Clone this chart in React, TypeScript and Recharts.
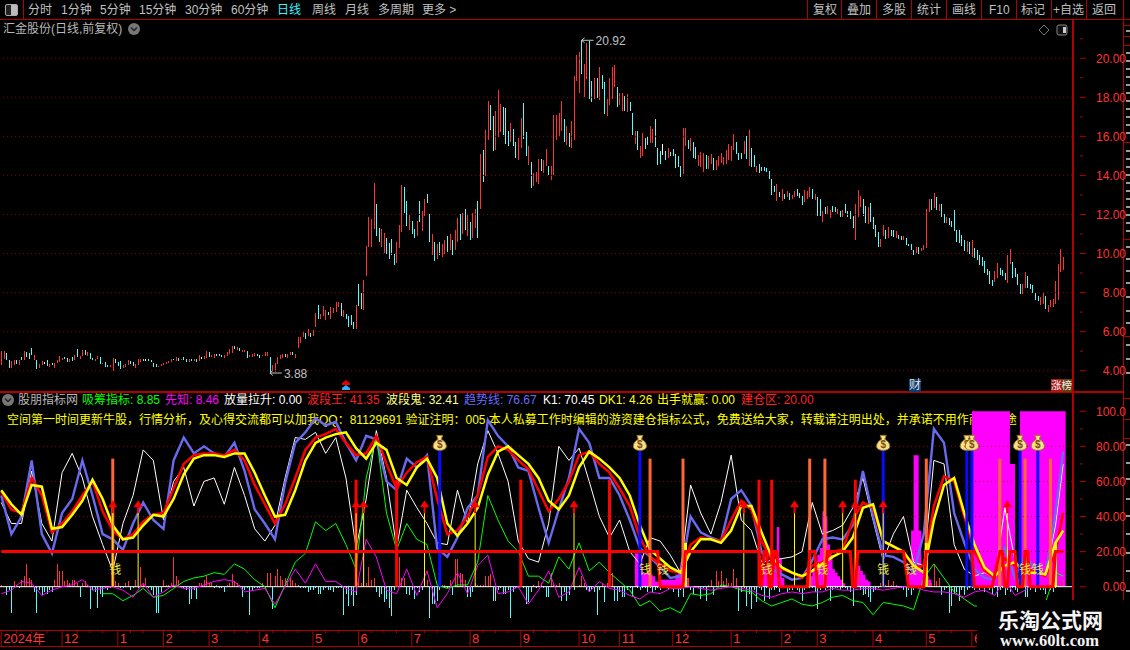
import { Area, Bar, ComposedChart, Line, ReferenceDot, ReferenceLine, XAxis, YAxis } from 'recharts'

// daily candles
const candleHigh = [
  4.99,4.99,4.89,4.56,4.48,4.56,4.56,4.56,4.68,4.99,
  4.94,4.89,5.15,4.79,4.56,4.32,4.48,4.43,4.56,4.32,
  4.38,4.38,4.56,4.74,4.63,4.68,4.63,4.58,4.68,4.79,
  5.09,4.74,5.04,5.04,4.94,4.89,4.63,4.58,4.74,4.68,
  4.38,4.43,4.27,4.27,4.63,4.58,4.43,4.48,4.27,4.32,
  4.53,4.48,4.43,4.32,4.58,4.58,4.58,4.58,4.58,4.53,
  4.38,4.32,4.22,4.32,4.38,4.43,4.48,4.58,4.58,4.68,
  4.63,4.58,4.68,4.58,4.58,4.58,4.58,4.58,4.79,4.68,
  4.74,4.99,4.94,4.79,4.84,4.84,4.84,4.79,4.79,4.94,
  5.09,5.25,5.25,5.2,5.15,5.04,5.04,4.99,4.79,4.84,
  4.89,4.84,4.79,4.79,4.94,4.94,4.68,4.27,4.38,4.68,
  4.79,4.84,4.84,4.84,4.94,4.94,4.84,5.71,5.71,5.97,
  5.91,6.12,5.91,6.07,6.94,7.35,6.89,7.3,7.09,6.99,
  7.25,7.2,7.5,7.5,7.45,7.09,6.89,6.79,6.84,6.48,
  7.35,8.43,7.97,8.63,10.38,11.88,11.78,13.62,12.55,11.33,
  11.26,11.06,10.82,10.53,10.75,9.95,10.6,11.47,13.5,13.4,
  12.7,11.95,11.65,11.26,11.67,12.67,12.2,12.77,13.06,12.0,
  11.0,10.6,10.5,10.6,10.5,10.7,10.9,11.0,10.7,11.2,
  11.8,12.0,12.1,12.3,12.0,11.6,12.1,12.3,12.7,15.11,
  15.32,16.34,17.83,17.62,17.06,17.32,18.39,17.68,17.5,17.47,
  16.29,16.68,16.39,15.73,15.93,16.92,17.73,16.24,15.52,14.7,
  14.12,14.15,14.84,14.84,14.8,15.37,14.5,14.5,17.09,17.11,
  17.2,17.83,16.9,16.51,16.17,16.8,19.11,20.19,20.31,20.92,
  19.73,20.79,20.87,18.85,18.99,19.0,19.54,19.16,18.8,17.93,
  18.99,19.54,19.68,18.55,18.22,18.22,18.09,18.19,17.78,17.2,
  16.27,16.26,15.49,16.17,15.9,16.0,16.55,16.39,16.9,15.42,
  15.23,15.62,15.23,15.42,15.18,15.37,15.11,15.0,14.5,16.44,
  16.44,15.83,15.93,15.73,15.45,15.06,15.21,15.16,15.06,15.0,
  15.11,14.9,14.8,15.0,15.16,14.96,15.32,15.62,15.52,16.14,
  15.73,15.16,15.16,15.76,16.0,16.34,15.42,15.04,14.48,14.58,
  14.43,14.43,14.39,14.22,13.83,13.45,13.56,13.15,13.3,13.04,
  13.2,13.09,13.0,13.2,13.3,13.09,12.94,13.25,13.2,13.41,
  13.3,13.04,12.87,12.79,12.17,12.36,12.43,12.22,12.43,12.38,
  12.27,12.17,12.22,12.56,12.17,12.17,11.91,12.53,13.25,12.94,
  12.79,12.43,12.38,12.58,11.86,11.45,11.09,10.73,11.45,11.2,
  11.35,11.23,11.2,11.15,10.95,10.92,10.89,10.79,10.51,10.48,
  10.17,10.33,10.33,10.26,10.43,12.29,12.79,12.79,13.09,12.89,
  12.53,12.53,12.02,11.86,11.81,11.66,12.22,11.2,11.2,10.95,
  10.68,10.63,10.58,10.68,10.27,10.17,9.91,9.81,9.61,9.2,
  9.09,8.63,9.09,9.5,9.25,9.15,9.0,9.91,10.22,9.56,
  9.25,8.94,8.43,8.43,9.04,8.84,8.43,8.38,7.97,7.82,
  7.76,8.02,7.82,7.35,7.61,7.66,8.58,9.45,10.22,9.81,
]

const candleLow = [
  4.27,4.62,4.53,4.12,4.12,4.27,4.36,4.27,4.53,4.53,
  4.68,4.58,4.79,4.53,4.07,4.12,4.27,4.32,4.22,4.17,
  4.27,4.12,4.38,4.43,4.53,4.58,4.43,4.43,4.48,4.53,
  4.68,4.58,4.74,4.79,4.74,4.58,4.53,4.48,4.58,4.32,
  4.32,4.17,4.17,4.17,3.97,4.38,4.22,4.07,4.12,4.17,
  4.27,4.32,4.22,4.12,4.27,4.43,4.48,4.48,4.48,4.43,
  4.17,4.17,4.17,4.22,4.27,4.32,4.38,4.43,4.53,4.48,
  4.48,4.53,4.53,4.43,4.43,4.48,4.48,4.43,4.48,4.58,
  4.58,4.63,4.68,4.68,4.63,4.74,4.74,4.68,4.63,4.74,
  4.84,4.89,5.09,5.04,4.99,4.94,4.94,4.63,4.68,4.68,
  4.74,4.74,4.63,4.74,4.74,4.74,3.88,4.02,3.91,4.32,
  4.58,4.63,4.68,4.63,4.79,4.79,4.63,5.15,5.4,5.71,
  5.61,5.76,5.71,5.76,6.22,6.63,6.63,6.79,6.58,6.84,
  6.63,6.94,6.99,7.25,6.79,6.74,6.63,6.22,6.32,6.12,
  6.12,7.3,7.15,7.09,8.84,10.32,10.32,11.26,10.9,10.58,
  10.32,10.03,9.98,9.73,9.9,9.4,9.52,10.27,11.1,12.1,
  11.4,11.2,11.0,10.8,10.9,11.6,11.15,11.9,12.6,10.6,
  9.9,9.6,9.7,9.9,9.8,10.0,10.1,10.2,9.9,10.2,
  10.6,10.7,11.0,11.2,10.9,10.7,10.8,11.3,10.8,12.3,
  13.64,13.98,15.83,16.34,15.23,15.28,15.95,16.24,16.07,15.62,
  15.49,15.69,15.49,14.89,14.8,15.42,15.88,14.97,14.55,13.38,
  13.47,13.64,13.57,14.24,14.12,14.5,14.0,13.74,14.03,15.79,
  16.0,16.26,15.73,15.54,15.45,15.4,15.83,18.82,18.22,19.2,
  18.02,18.94,17.91,17.74,17.91,17.97,17.85,18.43,17.16,17.06,
  17.62,17.91,18.53,17.5,17.6,17.28,17.28,17.23,17.28,16.09,
  15.62,15.28,14.91,14.97,15.35,15.57,15.66,15.66,15.45,14.51,
  14.6,15.06,14.8,14.89,15.0,15.0,14.38,14.43,13.9,14.09,
  15.52,15.35,15.23,14.89,14.84,14.5,14.43,14.15,14.34,14.32,
  14.58,14.29,14.26,14.5,14.63,14.55,14.6,14.77,14.75,15.32,
  15.11,14.8,14.84,15.11,14.85,14.5,14.44,14.41,14.17,14.14,
  14.24,14.22,14.19,13.83,13.0,13.15,12.68,12.9,12.68,12.8,
  12.87,12.73,12.8,12.87,12.97,12.84,12.48,12.63,12.79,12.89,
  12.79,12.73,11.91,11.91,11.61,12.02,11.97,11.81,12.12,12.12,
  12.02,11.88,11.86,12.09,11.86,11.79,11.3,10.68,11.88,12.38,
  11.91,11.54,11.5,11.6,11.25,10.84,10.32,10.32,10.89,10.72,
  10.79,10.89,10.84,10.77,10.72,10.68,10.68,10.43,10.38,10.17,
  9.91,10.02,10.0,10.12,10.17,10.27,12.12,12.22,12.32,12.22,
  12.19,11.88,11.56,11.54,11.45,11.35,11.15,10.58,10.56,10.38,
  10.12,10.07,9.97,9.81,9.76,9.66,9.4,9.35,8.99,8.89,
  8.46,8.32,8.53,8.74,8.89,8.84,8.63,8.48,9.45,8.74,
  8.79,8.38,7.91,7.91,8.22,8.22,8.17,7.97,7.61,7.56,
  7.35,7.4,7.15,6.99,7.25,7.25,7.4,7.61,9.04,9.15,
]

// R up, C down, W flat
const candleKind = [
  'RRCCRRCRCR','CCCRCRRWCR','CRRRRCCRCR','CRRCRCCRRC','RCCRRCCCRR','RCCRRRCWCC',
  'CCRRRRRRCR','CRCCRCRCRW','RRCRRCCCRR','RRCRCRRCRR','RCCRRRCRRR','RRCRRCRRRR',
  'CRCRRCRRRC','RRRRCRCCCC','RCCRRRRRCC','RRCCCCRRRC','CRCCRCRRCC','RCRCRRCRCR',
  'RCRCRCRRCR','CRRCCRRRCC','CRCCRRCCRC','RRRCRRCRRR','RRCRCRRRRC','RRCCRCRCCR',
  'RRRCRRCRCC','RCRRCCRRCC','CWCRCCCCCR','RCRCCRRRCR','RCRRRRRRRR','CCCRCRCCRC',
  'CCCCCCRCRC','RCRRCCCRRR','CRCCRCRRCC','RCRCCCCRRR','CCRCCCCRRC','RCCRCCRCCC',
  'CRCRRRRCRC','RCCRCCCCCC','CRCRCCCCCC','CCRRCCCRRC','CCCRRCCCCC','RRCRRRRRRR',
].join('')

// indicator lines, one reading every 4th day
const trendLine = [
  52,30,40,72,30,19,42,50,72,52,30,27,21,36,48,38,33,72,85,76,80,76,74,82,66,44,36,27,59,82,
  88,96,92,94,82,72,86,84,60,55,73,68,75,22,17,28,45,52,95,86,80,68,66,45,25,44,
  62,90,82,62,62,52,38,22,17,11,5,6,40,31,28,26,50,55,46,20,10,7,4,5,15,27,28,27,35,66,
  40,18,17,14,8,30,90,82,42,25,10,5,4,22,5,18,10,6,42,77,
]
const ghostLine = [
  48,36,36,66,36,26,65,76,62,40,24,9,36,52,78,72,38,60,68,46,60,62,47,68,52,33,26,35,62,85,
  84,88,76,85,62,22,50,89,62,22,55,45,36,25,24,55,36,70,89,76,60,26,16,14,36,80,
  72,79,60,40,28,38,20,13,28,26,18,8,58,42,30,48,75,38,32,14,15,16,17,20,48,30,32,35,45,62,
  38,15,30,40,14,12,72,70,24,10,6,8,5,45,15,8,12,6,35,70,
]
const k1Line = [
  54,44,42,62,52,31,36,43,52,60,43,32,27,30,37,41,42,56,70,75,76,76,75,78,72,58,47,36,47,62,
  78,85,87,90,82,75,76,86,70,56,65,71,74,50,30,32,40,52,74,80,78,72,67,55,43,50,
  60,75,77,70,65,56,46,28,17,13,9,8,24,28,27,26,38,49,44,26,15,10,8,5,12,14,20,21,38,48,
  45,26,23,20,11,12,46,63,60,40,20,9,5,16,12,10,9,6,20,42,
]
const dk1Line = [
  55,47,41,58,57,33,34,41,49,61,50,35,27,28,35,41,40,50,64,73,75,75,74,76,76,65,52,40,41,55,
  72,82,85,87,88,79,73,82,78,62,58,68,73,62,36,29,36,45,64,77,80,75,70,62,49,44,
  52,68,77,73,68,62,52,35,21,16,11,8,20,27,27,25,32,46,46,31,17,11,8,6,9,13,17,20,28,45,
  47,26,23,20,12,8,38,58,62,42,24,11,6,12,14,8,8,7,25,32,
]
const suckLine = [
  null,null,null,null,null,null,null,null,null,null,
  -4,-4,-8,-5,-1,-6,-5,-1,3,5,6,8,7,13,10,4,0,-12,1,14,19,37,32,36,24,10,62,86,42,21,36,27,24,1,-1,1,1,14,52,38,26,20,6,6,2,17,
  10,25,9,14,8,3,-2,-11,-8,-14,-12,-15,-4,-5,-4,1,0,-2,-3,-8,-11,-9,-7,-10,-11,-9,-6,-5,-8,-9,
  -16,-9,-10,-11,-13,5,13,5,-3,-7,-11,-11,-12,-10,-11,-12,-10,-9,8,6,
]
const foreLine = [
  -4,-2,3,2,-5,-2,0,1,4,-2,-1,0,-2,-6,2,-6,-3,1,-1,-1,1,3,4,3,-3,-2,-1,-10,0,10,2,13,3,3,-1,-3,27,17,-2,-4,10,-5,9,-12,-4,8,-4,12,18,-4,-3,0,-10,-2,9,-6,
  -3,11,-3,3,-1,-2,-5,-7,-3,-4,-1,-1,0,-1,-2,-1,0,-1,-2,-5,-6,-4,-3,-4,-3,-3,-1,-2,-2,-1,
  -1,-2,-1,0,0,-2,-3,-3,-4,-6,-3,-2,-5,4,-5,-2,3,5,2,1,
]

// red/cyan sticks around the zero line, one per day
const moneyFlow = [
  1,0,-5,-2,-15,3,1,-1,4,6,13,5,4,-3,-15,-2,-5,-3,-4,-2,
  -3,4,13,9,9,3,4,2,4,4,2,-6,2,3,1,-13,-2,-3,-12,-4,
  -6,-1,-2,-1,2,3,2,-1,-1,2,3,-2,-1,4,-1,11,2,5,-1,-2,
  -5,-15,-15,-3,4,1,1,2,17,6,4,-1,-1,-2,-10,-7,-2,-7,2,2,
  4,6,2,2,-1,1,-1,-1,-3,1,2,7,3,2,1,-6,-2,-1,-16,-2,
  -1,-1,-1,2,-1,8,8,-13,6,10,6,4,5,3,5,4,2,1,-1,-1,
  -1,-3,-2,-2,-1,-4,-4,-2,-1,-2,-2,-3,-1,-1,-1,-16,-4,-11,-5,-11,
  -5,3,2,11,2,11,4,5,-3,-6,-4,-9,-7,-12,-17,-2,10,17,5,5,
  -4,-5,-2,-7,-1,-3,-2,8,4,-18,-10,-10,-8,-2,1,1,-1,4,-5,16,
  16,8,7,4,-6,-6,-3,2,1,1,1,6,6,7,-8,-8,-2,-1,-4,-4,
  -2,-18,-3,-1,-1,3,-1,-10,-9,-3,1,-1,3,2,-1,-6,-6,8,2,1,
  2,-8,-3,-8,-5,1,-2,0,1,6,2,-2,-3,-2,-3,-16,-2,2,-9,2,
  16,8,-8,-8,-3,-6,-6,-2,-1,-6,1,-1,-2,-1,-1,-3,-1,-3,-2,-1,
  -2,-1,-1,-2,-1,-3,-1,-6,-2,-6,6,5,-2,-4,-1,-1,-7,-1,-8,1,
  4,-5,9,3,9,3,5,2,2,10,5,-14,-3,-1,-11,-4,-13,-2,-9,-1,
  -2,-8,-1,-7,-2,-2,-1,-3,-1,-1,-3,-2,-2,-1,-2,-3,-8,-2,-1,-1,
  -1,-3,-13,-2,-1,-2,-1,-8,-2,-1,-1,-2,-1,-1,-2,-3,-11,2,10,-2,
  -5,-4,-6,-9,-3,-2,-1,2,6,1,4,1,3,1,-1,-1,-2,-6,-2,-5,
  -2,-1,1,1,-1,1,2,2,13,3,5,-5,-2,-1,-15,-11,-4,-3,-8,-2,
  -5,-2,-1,-1,-2,-1,-2,-1,-3,-1,-2,-4,-1,-6,-2,-1,-5,-2,-3,-1,
  -2,-3,-1,-1,-6,-6,-2,-1,-3,-1,-2,-2,-4,-1,-2,-3,-1,1,2,4,
]

// magenta columns: day and height
const blockDay = [
  250,251,252,253,254,255,256,257,258,259,260,261,262,263,264,265,266,267,268,269,270,271,
  300,301,302,303,304,305,306,307,308,309,
  319,320,321,322,323,324,325,326,327,328,329,330,331,332,333,
  337,338,339,340,341,342,343,
  358,359,360,361,362,363,364,365,366,367,
  383,384,385,386,387,388,389,390,391,392,393,394,395,396,397,398,399,400,401,
  402,403,404,405,406,407,408,409,410,411,412,413,414,415,416,417,418,419,420,
]
const blockValue = [
  19,19,18,8,8,8,7,6,3,3,4,4,4,4,4,4,7,10,14,23,5,0,
  8,12,14,12,9,16,34,16,5,0,
  6,10,14,18,22,43,40,24,18,10,8,6,4,2,0,
  10,12,9,7,4,3,0,
  8,32,75,75,32,8,6,6,4,0,
  100,100,100,100,100,100,100,100,100,100,100,100,100,100,100,70,70,5,5,
  100,100,100,100,100,100,100,100,100,100,100,100,100,100,100,100,100,100,0,
]

// thick red zone line
const zoneDay = [
  0,259,260,269,270,299,300,301,302,303,304,305,306,307,318,319,321,322,325,326,335,336,337,338,356,358,364,365,
  383,384,391,394,395,396,397,398,400,401,403,404,405,406,415,416,419,
]
const zoneValue = [
  20,20,0,0,20,20,0,20,20,0,0,20,20,0,0,20,20,0,0,20,20,0,0,20,20,0,0,20,
  20,0,0,20,20,0,0,20,20,0,0,20,20,0,0,20,20,
]

const orangeDays = [44, 256, 269, 319, 325, 365, 394, 404, 414]
const redDays = [140, 156, 205, 240, 299, 304, 337]
const bagDays = [173, 252, 348, 381, 383, 402, 409]
const arrowDays = [44, 54, 140, 143, 167, 187, 226, 293, 313, 332, 337, 348, 397]
const thickYellowDays = [270, 365, 416]
const moneyWordDays = [45, 254, 261, 302, 324, 348, 359, 404, 409]

const priceTicks = [4, 5, 6, 7, 8, 9, 10, 11, 12, 13, 14, 15, 16, 17, 18, 19, 20, 21]
const gridPrices = [4, 6, 8, 10, 12, 14, 16, 18, 20]
const indicatorTicks = [0, 10, 20, 30, 40, 50, 60, 70, 80, 90, 100]
const gridIndicator = [20, 40, 60, 80]
const monthDays = [0, 24, 46, 64, 82, 102, 123, 141, 162, 185, 205, 228, 244, 265, 288, 308, 322, 344, 365, 383]
const monthLabels = ['2024年', '12', '1', '2', '3', '4', '5', '6', '7', '8', '9', '10', '11', '12', '1', '2', '3', '4', '5', '6']
const weekDays = [
  6, 12, 18, 30, 35, 40, 51, 56, 70, 76, 87, 92, 97, 107, 112, 117, 128, 133, 146, 151, 156, 167, 172, 177, 190, 195, 200,
  210, 215, 220, 233, 238, 249, 254, 259, 270, 275, 280, 293, 298, 303, 313, 318, 327, 332, 337, 349, 354, 359, 370, 375,
]

const RED = '#ff3232'
const CYAN = '#54fcfc'
const LINE_RED = '#b00000'
const FONT = '"Liberation Sans","Noto Sans CJK SC",sans-serif'

const kindColor: Record<string, string> = { R: RED, C: CYAN, W: '#ffffff' }

const rows = Array.from({ length: 423 }, (_, i) => {
  const row: any = { i }
  if (i < candleHigh.length) {
    row.range = [candleLow[i], candleHigh[i]]
    row.kind = candleKind[i]
    row.flow = moneyFlow[i]
  }
  const k = i === 419 ? 105 : i % 4 === 0 && i < 419 ? i / 4 : -1
  if (k >= 0) {
    row.trend = trendLine[k]
    row.ghost = ghostLine[k]
    row.k1 = k1Line[k]
    row.dk1 = dk1Line[k]
    row.suck = suckLine[k]
    row.fore = foreLine[k]
  }
  const b = blockDay.indexOf(i)
  row.block = b >= 0 ? blockValue[b] : 0
  const z = zoneDay.indexOf(i)
  if (z >= 0) row.zone = zoneValue[z]
  return row
})

function CandleStick(p: any) {
  if (!p.payload?.range) return null
  return <rect x={Math.round(p.x)} y={p.y} width={1} height={Math.max(p.height, 1)} fill={kindColor[p.payload.kind]} shapeRendering="crispEdges" />
}

function FlowStick(p: any) {
  const v = p.payload?.flow
  if (!v) return null
  const top = Math.min(p.y, p.y + p.height)
  return <rect x={Math.round(p.x)} y={top} width={1} height={Math.abs(p.height)} fill={v > 0 ? RED : CYAN} shapeRendering="crispEdges" />
}

function PriceTick({ x, y, payload }: any) {
  const major = payload.value % 2 === 0
  return (
    <g>
      <line x1={x} x2={x + (major ? 6 : 3)} y1={y} y2={y} stroke={LINE_RED} />
      {major && <text x={x + 46} y={y + 4.5} textAnchor="end" fontSize={12} fontFamily={FONT} fill={RED}>{payload.value.toFixed(2)}</text>}
    </g>
  )
}

function IndicatorTick({ x, y, payload }: any) {
  const major = payload.value % 20 === 0
  const label = payload.value === 100 ? '100.0' : payload.value.toFixed(2)
  return (
    <g>
      <line x1={x} x2={x + (major ? 6 : 3)} y1={y} y2={y} stroke={LINE_RED} />
      {major && <text x={x + 46} y={y + 4.5} textAnchor="end" fontSize={12} fontFamily={FONT} fill={RED}>{label}</text>}
    </g>
  )
}

function MonthTick({ x, payload }: any) {
  const at = monthDays.indexOf(payload.value)
  if (at < 0) return <line x1={x} x2={x} y1={238} y2={241} stroke={LINE_RED} />
  return (
    <g>
      <line x1={x} x2={x} y1={238} y2={254} stroke={LINE_RED} />
      <text x={x + 2} y={251} fontSize={13} fontFamily={FONT} fill={RED}>{monthLabels[at]}</text>
    </g>
  )
}

function PriceNote({ cx, cy, text }: any) {
  return (
    <g>
      <line x1={cx} x2={cx + 12} y1={cy} y2={cy} stroke="#c0c0c0" />
      <path d={`M${cx + 3} ${cy - 2.5}L${cx} ${cy}L${cx + 3} ${cy + 2.5}`} stroke="#c0c0c0" fill="none" />
      <text x={cx + 14} y={cy + 4.5} fontSize={12} fontFamily={FONT} fill="#c0c0c0">{text}</text>
    </g>
  )
}

function Pyramid({ cx, cy }: any) {
  return (
    <g>
      <path d={`M${cx} ${cy - 5}l4 3v2h-8v-2z`} fill="#e00000" />
      <path d={`M${cx} ${cy}l4 3v2h-8v-2z`} fill="#30b0ff" />
    </g>
  )
}

function MoneyBag({ cx, cy }: any) {
  return (
    <g transform={`translate(${cx},${cy})`}>
      <path d="M-3 -7.5L3 -7.5L1.6 -3.6C5 -2 6.6 1 6.6 3.4C6.6 6.4 3 7.5 0 7.5C-3 7.5 -6.6 6.4 -6.6 3.4C-6.6 1 -5 -2 -1.6 -3.6Z" fill="#f7e08a" stroke="#9a7420" />
      <text x={0} y={5.5} textAnchor="middle" fontSize={10} fontWeight="bold" fontFamily={FONT} fill="#7a4a10">$</text>
    </g>
  )
}

function UpArrow({ cx, cy }: any) {
  return (
    <g>
      <path d={`M${cx} ${cy - 4}l4.5 7h-9z`} fill="#ff0000" />
      <rect x={cx - 1} y={cy + 3} width={2} height={6} fill="#ff0000" />
    </g>
  )
}

function MoneyWord({ cx, cy }: any) {
  return <text x={cx} y={cy + 5} textAnchor="middle" fontSize={12} fontFamily={FONT} fill="#e6e632">钱</text>
}

function PriceChart() {
  return (
    <ComposedChart width={1130} height={370} data={rows} margin={{ top: 0, right: 0, bottom: 0, left: 0 }}>
      <XAxis dataKey="i" hide />
      <YAxis orientation="right" width={58} domain={[3.01, 21.96]} allowDataOverflow ticks={priceTicks} interval={0} axisLine={false} tickLine={false} tick={PriceTick} />
      {gridPrices.map((v) => (
        <ReferenceLine key={v} y={v} stroke="#8a0000" strokeDasharray="1 3" />
      ))}
      <Bar dataKey="range" barSize={1} shape={CandleStick} isAnimationActive={false} />
      <ReferenceDot x={229} y={20.92} r={0} shape={(p: any) => <PriceNote {...p} text="20.92" />} />
      <ReferenceDot x={106} y={3.88} r={0} shape={(p: any) => <PriceNote {...p} text="3.88" />} />
      <ReferenceDot x={136} y={3.27} r={0} shape={Pyramid} />
    </ComposedChart>
  )
}

function IndicatorChart() {
  return (
    <ComposedChart width={1130} height={254} data={rows} margin={{ top: 0, right: 0, bottom: 0, left: 0 }}>
      <XAxis dataKey="i" height={16} ticks={[...monthDays, ...weekDays].sort((a, b) => a - b)} interval={0} axisLine={false} tickLine={false} tick={MonthTick} />
      <YAxis orientation="right" width={58} domain={[-24.7, 111]} allowDataOverflow ticks={indicatorTicks} interval={0} axisLine={false} tickLine={false} tick={IndicatorTick} />
      {gridIndicator.map((v) => (
        <ReferenceLine key={v} y={v} stroke="#8a0000" strokeDasharray="1 3" />
      ))}
      <ReferenceLine y={0} stroke="#ffffff" />
      <Area dataKey="block" type="stepAfter" fill="#ff00ff" fillOpacity={1} stroke="none" dot={false} isAnimationActive={false} />
      <Line dataKey="ghost" stroke="#ffffff" strokeWidth={1} dot={false} connectNulls isAnimationActive={false} />
      <Line dataKey="trend" stroke="#6a6aee" strokeWidth={2.4} dot={false} connectNulls isAnimationActive={false} />
      <Line dataKey="suck" stroke="#00ff00" strokeWidth={1} dot={false} connectNulls isAnimationActive={false} />
      <Bar dataKey="flow" barSize={1} shape={FlowStick} isAnimationActive={false} />
      <Line dataKey="fore" stroke="#ff00ff" strokeWidth={1} dot={false} connectNulls isAnimationActive={false} />
      <Line dataKey="k1" stroke="#ff0000" strokeWidth={2.5} dot={false} connectNulls isAnimationActive={false} />
      <Line dataKey="dk1" stroke="#ffff00" strokeWidth={2.5} dot={false} connectNulls isAnimationActive={false} />
      {orangeDays.map((d) => (
        <ReferenceLine key={d} segment={[{ x: d, y: 0 }, { x: d, y: 73 }]} stroke="#ff6633" strokeWidth={3} />
      ))}
      {thickYellowDays.map((d) => (
        <ReferenceLine key={d} segment={[{ x: d, y: 0 }, { x: d, y: 25 }]} stroke="#ffff00" strokeWidth={3} />
      ))}
      {redDays.map((d) => (
        <ReferenceLine key={d} segment={[{ x: d, y: 0 }, { x: d, y: 61 }]} stroke="#ff0000" strokeWidth={3} />
      ))}
      {bagDays.map((d) => (
        <ReferenceLine key={d} segment={[{ x: d, y: 0 }, { x: d, y: 79 }]} stroke="#0a0aff" strokeWidth={3} />
      ))}
      {arrowDays.map((d) => (
        <ReferenceLine key={d} segment={[{ x: d, y: 0 }, { x: d, y: 44 }]} stroke="#ffff00" strokeWidth={1} />
      ))}
      <Line dataKey="zone" stroke="#ff0000" strokeWidth={3} dot={false} connectNulls isAnimationActive={false} />
      {arrowDays.map((d) => (
        <ReferenceDot key={d} x={d} y={47} r={0} shape={UpArrow} />
      ))}
      {bagDays.map((d) => (
        <ReferenceDot key={d} x={d} y={82} r={0} shape={MoneyBag} />
      ))}
      {moneyWordDays.map((d) => (
        <ReferenceDot key={d} x={d} y={10} r={0} shape={MoneyWord} />
      ))}
    </ComposedChart>
  )
}

const leftTabs = [
  ['分时', 28], ['1分钟', 61], ['5分钟', 100], ['15分钟', 139], ['30分钟', 185], ['60分钟', 231],
  ['日线', 277], ['周线', 312], ['月线', 345], ['多周期', 378], ['更多 >', 422],
] as const
const rightTabs = [
  ['复权', 813], ['叠加', 847], ['多股', 882], ['统计', 917], ['画线', 952], ['F10', 989], ['标记', 1021], ['+自选', 1053], ['返回', 1092],
] as const
const tabLines = [23, 807, 841, 876, 911, 946, 981, 1016, 1051, 1086]
const legendItems = [
  ['吸筹指标: 8.85', 82, '#00ff00'], ['先知: 8.46', 165, '#ff00ff'], ['放量拉升: 0.00', 224, '#ffffff'],
  ['波段王: 41.35', 307, '#ff2020'], ['波段鬼: 32.41', 386, '#ffff80'], ['趋势线: 76.67', 464, '#6a6aff'],
  ['K1: 70.45', 543, '#ffffff'], ['DK1: 4.26', 599, '#ffff00'], ['出手就赢: 0.00', 657, '#ffff00'], ['建仓区: 20.00', 741, '#ff2020'],
] as const
const sideLines = [25, 36, 45, 142, 239, 336, 398, 419, 438]
const sideMarks = [30, 52, 60, 68, 76, 84, 92, 100, 108, 116, 124, 132, 150, 158, 166, 174, 182, 190, 198, 206, 214, 222, 230, 246, 258, 270, 282, 296, 310, 322, 344, 358, 372, 444, 462, 478, 498, 515, 533, 552, 570, 590]

function Label({ x, y, color, size = 12, children }: any) {
  return <span style={{ position: 'absolute', left: x, top: y - 8, height: 16, lineHeight: '16px', fontSize: size, fontFamily: FONT, color, whiteSpace: 'nowrap' }}>{children}</span>
}

function Rule({ x, y, w, h, color = LINE_RED }: any) {
  return <div style={{ position: 'absolute', left: x, top: y, width: w, height: h, background: color }} />
}

function RoundChevron({ x, y }: any) {
  return (
    <svg style={{ position: 'absolute', left: x, top: y }} width={14} height={14}>
      <circle cx={7} cy={7} r={6} fill="#777777" />
      <path d="M4 5.5L7 8.5L10 5.5" stroke="#222222" strokeWidth={1.5} fill="none" />
    </svg>
  )
}

export default function App() {
  return (
    <div style={{ position: 'absolute', left: 0, top: 0, width: 1130, height: 650, background: '#000', overflow: 'hidden' }}>
      <Rule x={0} y={19} w={1130} h={1} />
      {tabLines.map((x) => <Rule key={x} x={x} y={0} w={1} h={20} />)}
      <div style={{ position: 'absolute', left: 5, top: 4, width: 11, height: 10, border: '1px solid #aaa', borderRadius: 2, background: 'linear-gradient(90deg,#222 50%,#bbb 50%)' }} />
      {leftTabs.map(([t, x]) => <Label key={t} x={x} y={10} color={t === '日线' ? '#40f0ff' : '#c0c0c0'}>{t}</Label>)}
      {rightTabs.map(([t, x]) => <Label key={t} x={x} y={10} color="#c0c0c0">{t}</Label>)}

      <Label x={3} y={29} color="#b8b8b8">汇金股份(日线,前复权)</Label>
      <RoundChevron x={127} y={22} />
      <svg style={{ position: 'absolute', left: 1038, top: 24 }} width={32} height={13}>
        <path d="M6 1L11 6L6 11L1 6Z" stroke="#777" fill="none" />
        <rect x={19} y={1} width={10} height={10} rx={2} stroke="#888" fill="#111" />
        <rect x={25} y={3} width={3} height={6} fill="#ccc" />
      </svg>

      <Rule x={1072} y={20} w={1.5} h={610} />
      <Rule x={1123} y={0} w={1} h={650} />
      {sideLines.map((y) => <Rule key={y} x={1123} y={y} w={7} h={1} />)}
      {sideMarks.map((y) => <Rule key={y} x={1126} y={y} w={4} h={2} color="#9a9a9a" />)}
      <Rule x={0} y={391} w={1123} h={1.5} />

      <RoundChevron x={1} y={393} />
      <Label x={18} y={400} color="#b8b8b8">股朋指标网</Label>
      {legendItems.map(([t, x, c]) => <Label key={t} x={x} y={400} color={c}>{t}</Label>)}
      <Label x={7} y={420} color="#ffff00">
        空间第一时间更新牛股，行情分析，及心得交流都可以加我QQ：81129691 验证注明：005 本人私募工作时编辑的游资建仓指标公式，免费送给大家，转载请注明出处，并承诺不用作商业用途
      </Label>

      <div style={{ position: 'absolute', left: 0, top: 20 }}><PriceChart /></div>
      <div style={{ position: 'absolute', left: 0, top: 392 }}><IndicatorChart /></div>

      <span style={{ position: 'absolute', left: 909, top: 379, width: 12, height: 13, lineHeight: '13px', background: '#0d3c70', color: '#dddddd', fontSize: 12, fontFamily: FONT, textAlign: 'center' }}>财</span>
      <span style={{ position: 'absolute', left: 1051, top: 379, width: 21, height: 13, lineHeight: '13px', background: 'linear-gradient(90deg,#b01818 50%,#6a3a10 50%)', color: '#eeeeee', fontSize: 10.5, fontFamily: FONT, textAlign: 'center' }}>涨榜</span>

      <Rule x={0} y={630} w={1072} h={1} />
      <Rule x={0} y={646} w={1072} h={1} />

      <div style={{ position: 'absolute', left: 977, top: 600, width: 153, height: 50, background: '#000' }} />
      <span style={{ position: 'absolute', left: 998, top: 605, fontSize: 21, lineHeight: '28px', fontWeight: 700, letterSpacing: 0, fontFamily: '"Noto Sans CJK SC",sans-serif', color: '#f4f4f4', whiteSpace: 'nowrap' }}>乐淘公式网</span>
      <span style={{ position: 'absolute', left: 1000, top: 631, fontSize: 16.5, lineHeight: '19px', fontWeight: 700, fontFamily: '"Liberation Serif",serif', color: '#f4f4f4', whiteSpace: 'nowrap' }}>www.60lt.com</span>
    </div>
  )
}
